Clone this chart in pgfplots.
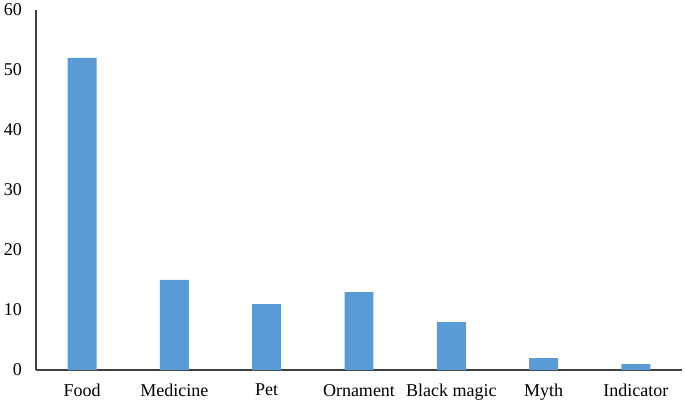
\documentclass[border=0pt]{standalone}
\usepackage{pgfplots}
\pgfplotsset{compat=1.18}
\usepackage{fontspec}
\setmainfont{Liberation Serif}
\definecolor{barblue}{HTML}{5B9BD5}
\definecolor{axgray}{HTML}{404040}
\begin{document}
\fontsize{18bp}{21bp}\selectfont
\begin{tikzpicture}
\begin{axis}[
  name=ax,
  scale only axis,
  width=646bp, height=360bp,
  xmin=-0.5, xmax=6.5,
  ymin=0, ymax=60,
  ytick={0,10,...,60},
  xtick=data,
  xticklabels={Food,Medicine,Pet,Ornament,Black magic,Myth,Indicator},
  axis x line=bottom, axis y line=left,
  axis line style={axgray, line width=1.2pt, -},
  major tick length=0pt,
  tick style={draw=none},
  /pgf/number format/assume math mode=true,
  ticklabel style={font=\fontsize{18bp}{21bp}\selectfont},
  yticklabel style={xshift=-8bp},
  xticklabel style={yshift=-8bp},
  ybar, bar width=0.314,
]
\addplot[fill=barblue, draw=none] coordinates {(0,52) (1,15) (2,11) (3,13) (4,8) (5,2) (6,1)};
\end{axis}
\pgfresetboundingbox
\path ([shift={(-36bp,-33bp)}]ax.south west) rectangle ([shift={(3bp,10bp)}]ax.north east);
\end{tikzpicture}
\end{document}
